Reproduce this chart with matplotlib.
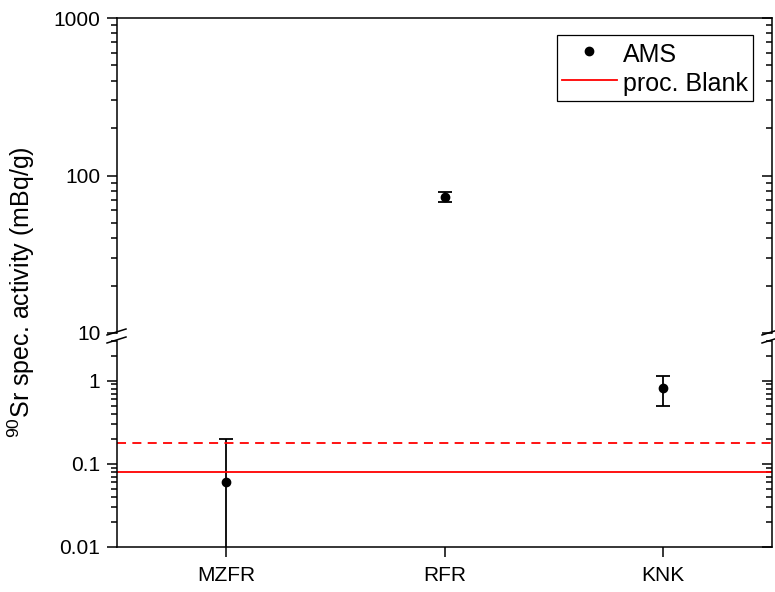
import matplotlib
matplotlib.use("Agg")
import matplotlib.pyplot as plt
from matplotlib.lines import Line2D
import numpy as np

plt.rcParams['font.family'] = ['Liberation Sans', 'DejaVu Sans']
plt.rcParams['mathtext.fontset'] = 'custom'
plt.rcParams['mathtext.rm'] = 'Liberation Sans'
plt.rcParams['mathtext.it'] = 'Liberation Sans:italic'

# Data
categories = ["MZFR", "RFR", "KNK"]
ams_values = [0.061, 73.5, 0.82]
ams_err_low = [0.139, 5.5, 0.32]
ams_err_high = [0.139, 5.5, 0.33]
blank_value = 0.08
blank_limit = 0.18

x = np.arange(1, len(categories) + 1)

fig = plt.figure(figsize=(7.75, 5.92), dpi=100)
L = 117 / 775
R = 772 / 775
ax_up = fig.add_axes([L, 1 - 333 / 592, R - L, (333 - 18) / 592])
ax_lo = fig.add_axes([L, 1 - 547 / 592, R - L, (547 - 341) / 592])

lw = 1.1
for ax in (ax_up, ax_lo):
    ax.errorbar(x, ams_values, yerr=[ams_err_low, ams_err_high], fmt='o',
                color='black', ms=6, elinewidth=1.3, capsize=5, capthick=1.3)
    ax.set_yscale('log')
    ax.set_xlim(0.5, 3.5)
    for s in ax.spines.values():
        s.set_linewidth(lw)
    ax.tick_params(axis='y', which='both', left=True, right=True,
                   direction='out', labelsize=15, width=lw, pad=5)
    ax.tick_params(axis='y', which='major', length=7)
    ax.tick_params(axis='y', which='minor', length=4)

ax_lo.axhline(blank_value, color='red', lw=1.3)
ax_lo.axhline(blank_limit, color='red', lw=1.3, ls=(0, (5, 3.5)))

ax_up.set_ylim(10, 1000)
ax_lo.set_ylim(0.01, 3)
ax_up.set_yticks([10, 100, 1000])
ax_up.set_yticklabels(["10", "100", "1000"])
ax_lo.set_yticks([0.01, 0.1, 1])
ax_lo.set_yticklabels(["0.01", "0.1", "1"])

# right ticks inward
for ax in (ax_up, ax_lo):
    for t in ax.yaxis.get_major_ticks() + ax.yaxis.get_minor_ticks():
        t.tick2line.set_marker(matplotlib.lines.TICKLEFT)

ax_up.spines['bottom'].set_visible(False)
ax_lo.spines['top'].set_visible(False)
ax_up.tick_params(axis='x', which='both', bottom=False, top=False, labelbottom=False)
ax_lo.set_xticks(x)
ax_lo.set_xticklabels(categories)
ax_lo.tick_params(axis='x', which='both', direction='out', length=7, width=lw,
                  labelsize=15, pad=7, top=False)
ax_lo.xaxis.set_minor_locator(matplotlib.ticker.NullLocator())

# break marks
def brk(yfrac):
    kw = dict(transform=fig.transFigure, color='black', lw=1.1, clip_on=False)
    for xf in (L, R):
        xp = xf * 775
        fig.add_artist(Line2D([(xp - 10) / 775, (xp + 9) / 775],
                              [1 - (yfrac + 3) / 592, 1 - (yfrac - 3) / 592], **kw))
brk(332)
brk(340)

fig.text(0.028, 1 - 292 / 592,
         r'$^{90}$Sr spec. activity (mBq/g)', rotation=90, va='center',
         ha='center', fontsize=18)

handles = [Line2D([], [], marker='o', ls='none', color='black', ms=6),
           Line2D([], [], color='red', lw=1.3)]
leg = ax_up.legend(handles, ["AMS", "proc. Blank"], loc='upper right',
                   bbox_to_anchor=(0.971, 0.946), fontsize=18, frameon=True,
                   fancybox=False, edgecolor='black', framealpha=1,
                   borderpad=0.2, handlelength=2.2, labelspacing=0.12,
                   handleheight=1.24, handletextpad=0.25, borderaxespad=0)
leg.get_frame().set_linewidth(0.9)

fig.savefig("out.png", dpi=100)
